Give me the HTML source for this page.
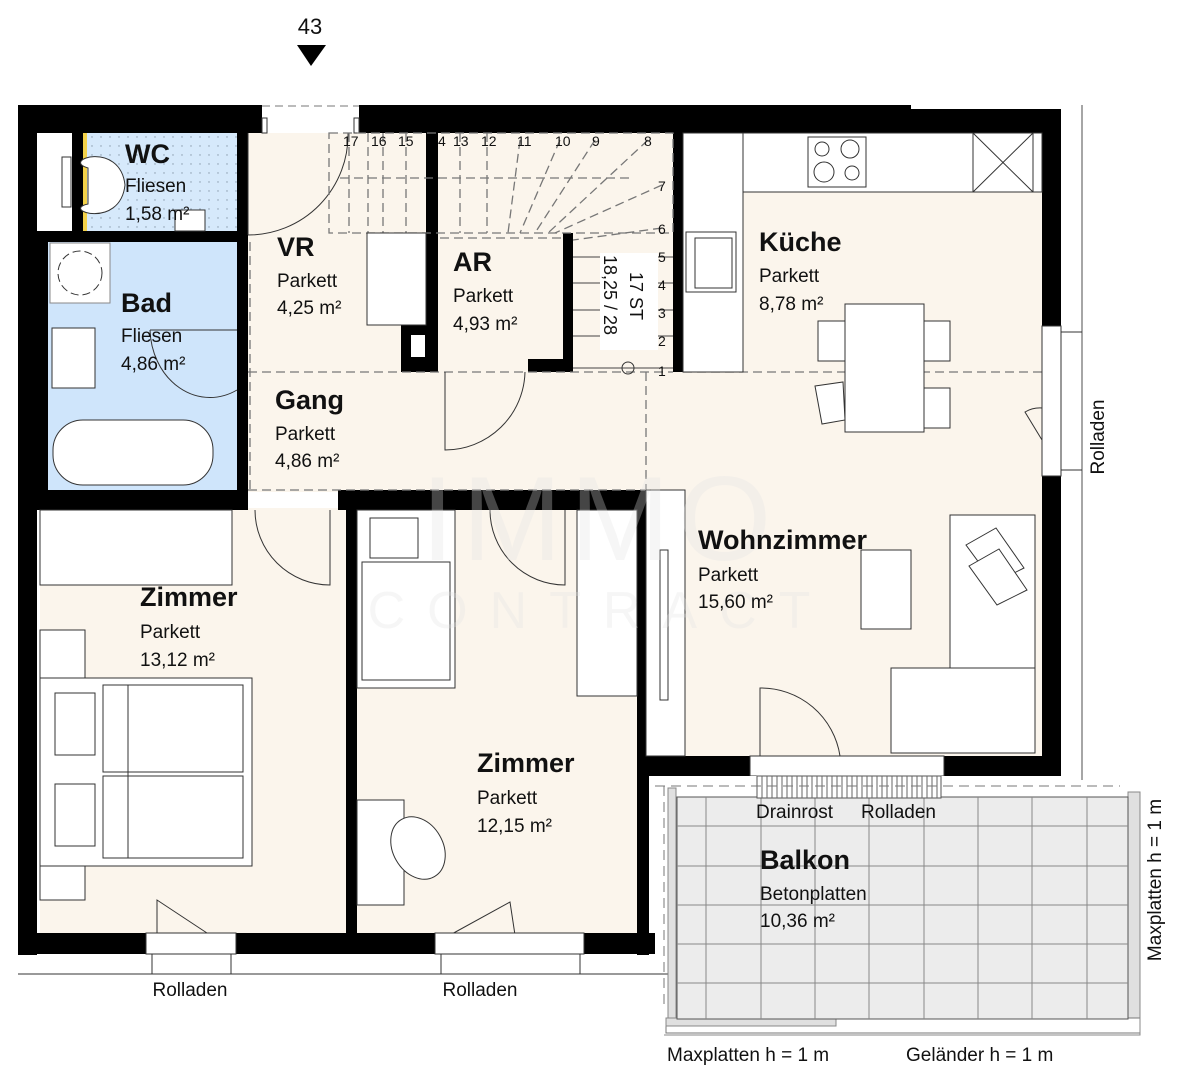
<!DOCTYPE html>
<html><head><meta charset="utf-8"><style>
html,body{margin:0;padding:0;background:#fff}
svg{display:block}
text{font-family:"Liberation Sans",sans-serif;fill:#111}
.t{font-weight:bold;font-size:27px}
.s{font-size:19px}
</style></head><body>
<svg width="1200" height="1090" viewBox="0 0 1200 1090" xmlns="http://www.w3.org/2000/svg">
<defs>
<pattern id="dots" width="9" height="9" patternUnits="userSpaceOnUse"><rect width="9" height="9" fill="#d6e9fb"/><circle cx="2" cy="2" r="0.7" fill="#8899aa"/></pattern>
</defs>
<!-- floors -->
<rect x="248" y="133" width="425" height="239" fill="#fbf5ec"/>
<rect x="248" y="372" width="400" height="120" fill="#fbf5ec"/>
<rect x="683" y="192" width="360" height="180" fill="#fbf5ec"/>
<rect x="646" y="372" width="397" height="386" fill="#fbf5ec"/>
<rect x="40" y="508" width="306" height="428" fill="#fbf5ec"/>
<rect x="357" y="508" width="280" height="428" fill="#fbf5ec"/>
<rect x="83" y="133" width="154" height="98" fill="url(#dots)"/>
<rect x="83" y="133" width="4" height="98" fill="#f3d24a"/>
<rect x="48" y="242" width="189" height="248" fill="#cfe5fb"/>
<!-- walls -->
<g fill="#000">
<rect x="18" y="105" width="244" height="28"/>
<rect x="359" y="105" width="552" height="28"/>
<rect x="911" y="109" width="150" height="24"/>
<rect x="18" y="105" width="19" height="850"/>
<rect x="72" y="133" width="11" height="98"/>
<rect x="18" y="231" width="230" height="11"/>
<rect x="18" y="242" width="30" height="248"/>
<rect x="237" y="133" width="11" height="377"/>
<rect x="18" y="490" width="230" height="20"/>
<rect x="338" y="490" width="310" height="20"/>
<rect x="346" y="508" width="11" height="428"/>
<rect x="637" y="490" width="12" height="465"/>
<rect x="18" y="933" width="128" height="21"/>
<rect x="236" y="933" width="199" height="21"/>
<rect x="584" y="933" width="71" height="21"/>
<rect x="426" y="133" width="12" height="239"/>
<rect x="563" y="233" width="10" height="139"/>
<rect x="528" y="359" width="45" height="13"/>
<rect x="401" y="325" width="25" height="47"/>
<rect x="673" y="133" width="10" height="239"/>
<rect x="1042" y="109" width="19" height="217"/>
<rect x="1042" y="476" width="19" height="300"/>
<rect x="637" y="756" width="113" height="20"/>
<rect x="944" y="756" width="117" height="20"/>
</g>
<rect x="411" y="335" width="14" height="22" fill="#fff"/>
<rect x="37" y="133" width="35" height="98" fill="#fff"/>
<rect x="62" y="157" width="9" height="50" fill="#fff" stroke="#333"/>
<!-- entrance -->
<rect x="262" y="105" width="97" height="28" fill="#fff"/>
<line x1="262" y1="106" x2="359" y2="106" stroke="#777" stroke-dasharray="8,5"/>
<rect x="262" y="118" width="5" height="15" fill="#fff" stroke="#333"/><rect x="354" y="118" width="5" height="15" fill="#fff" stroke="#333"/>
<path d="M248 235 A100 100 0 0 0 348 133" fill="none" stroke="#333"/>
<line x1="248" y1="133" x2="248" y2="235" stroke="#333"/>
<!-- stairs -->
<g stroke="#777" stroke-dasharray="9,5" fill="none" stroke-width="1.3">
<rect x="329" y="133" width="344" height="100"/>
<line x1="349" y1="133" x2="349" y2="233"/><line x1="368" y1="133" x2="368" y2="233"/><line x1="383" y1="133" x2="383" y2="233"/>
<line x1="406" y1="133" x2="406" y2="233"/><line x1="460" y1="133" x2="460" y2="233"/><line x1="487" y1="133" x2="487" y2="233"/>
<line x1="520" y1="140" x2="508" y2="233"/><line x1="560" y1="140" x2="520" y2="233"/><line x1="595" y1="140" x2="535" y2="233"/><line x1="648" y1="140" x2="548" y2="233"/>
<line x1="662" y1="185" x2="555" y2="233"/><line x1="662" y1="228" x2="573" y2="240"/>
<line x1="340" y1="178" x2="630" y2="178"/>
<line x1="248" y1="372" x2="673" y2="372"/><line x1="248" y1="490" x2="645" y2="490"/><line x1="646" y1="372" x2="646" y2="490"/>
<line x1="683" y1="372" x2="1042" y2="372"/><line x1="250" y1="242" x2="250" y2="490"/>
<line x1="440" y1="238" x2="563" y2="238"/>
</g>
<rect x="367" y="233" width="59" height="92" fill="#fff" stroke="#333"/>
<g stroke="#444"><line x1="573" y1="257" x2="673" y2="257"/><line x1="573" y1="283" x2="673" y2="283"/><line x1="573" y1="310" x2="673" y2="310"/><line x1="573" y1="336" x2="673" y2="336"/><line x1="573" y1="368" x2="673" y2="368"/></g>
<rect x="600" y="253" width="58" height="97" fill="#fff"/>
<circle cx="628" cy="368" r="6" fill="none" stroke="#333"/>
<g font-size="14" style="font-family:'Liberation Sans',sans-serif">
<text x="343" y="146">17</text><text x="371" y="146">16</text><text x="398" y="146">15</text><text x="438" y="146">4</text><text x="453" y="146">13</text><text x="481" y="146">12</text><text x="517" y="146">11</text><text x="555" y="146">10</text><text x="592" y="146">9</text><text x="644" y="146">8</text>
<text x="658" y="191">7</text><text x="658" y="234">6</text><text x="658" y="262">5</text><text x="658" y="290">4</text><text x="658" y="318">3</text><text x="658" y="346">2</text><text x="658" y="376">1</text>
</g>
<text transform="translate(604,255) rotate(90)" font-size="18">18,25 / 28</text>
<text transform="translate(630,272) rotate(90)" font-size="18">17 ST</text>
<!-- doors -->
<g fill="none" stroke="#333">
<path d="M445 372 L445 450 A80 80 0 0 0 525 372"/>
<path d="M237 390 A60 70 0 0 1 150 330"/><line x1="150" y1="330" x2="237" y2="330"/>
<path d="M255 510 A75 75 0 0 0 330 585 L330 510"/>
<path d="M490 510 A75 75 0 0 0 565 585 L565 510"/>
<path d="M760 756 L760 688 A80 80 0 0 1 840 756"/>
<path d="M1042 408 A30 30 0 0 0 1025 412 L1042 440"/>
<path d="M157 935 L157 900 L210 935"/><path d="M450 935 L510 902 L515 935"/>
</g>
<!-- windows bottom -->
<g fill="#fff" stroke="#333">
<rect x="146" y="933" width="90" height="21"/><rect x="435" y="933" width="149" height="21"/>
<rect x="152" y="954" width="79" height="20"/><rect x="441" y="954" width="139" height="20"/>
<rect x="1042" y="326" width="19" height="150"/>
<rect x="750" y="756" width="194" height="20"/>
</g>
<line x1="18" y1="974" x2="676" y2="974" stroke="#333"/>
<line x1="1082" y1="105" x2="1082" y2="780" stroke="#888" stroke-width="1.5"/>
<line x1="1061" y1="332" x2="1082" y2="332" stroke="#333"/><line x1="1061" y1="470" x2="1082" y2="470" stroke="#333"/>
<!-- bathroom fixtures -->
<g fill="#fff" stroke="#333">
<rect x="50" y="243" width="60" height="60" stroke="#888"/>
<circle cx="80" cy="273" r="22" stroke-dasharray="8,4"/>
<rect x="52" y="328" width="43" height="60"/>
<rect x="53" y="420" width="160" height="65" rx="30"/>
<path d="M88 168 C60 160 120 140 125 185 C120 230 60 210 88 204 Z"/>
<rect x="175" y="210" width="30" height="21"/>
</g>
<!-- kitchen -->
<g fill="#fff" stroke="#333">
<rect x="683" y="133" width="60" height="239"/>
<rect x="743" y="133" width="299" height="59"/>
<rect x="808" y="137" width="58" height="50"/>
<circle cx="822" cy="149" r="7" fill="none"/><circle cx="850" cy="149" r="9" fill="none"/><circle cx="824" cy="172" r="10" fill="none"/><circle cx="852" cy="173" r="7" fill="none"/>
<rect x="973" y="133" width="60" height="59"/>
<line x1="973" y1="133" x2="1033" y2="192"/><line x1="1033" y1="133" x2="973" y2="192"/>
<rect x="686" y="232" width="50" height="60"/><rect x="695" y="238" width="37" height="50"/>
<rect x="818" y="321" width="27" height="40"/><rect x="924" y="321" width="26" height="40"/><rect x="924" y="388" width="26" height="40"/>
<polygon points="815,386 843,382 845,420 822,424"/>
<rect x="845" y="304" width="79" height="128"/>
<!-- living -->
<rect x="646" y="490" width="39" height="266"/>
<rect x="660" y="550" width="8" height="150"/>
<rect x="950" y="515" width="85" height="238"/>
<rect x="891" y="668" width="144" height="85"/>
<rect x="861" y="550" width="50" height="79"/>
<polygon points="966,545 996,528 1024,568 994,583"/>
<polygon points="969,566 999,549 1027,590 997,605"/>
<!-- bedroom1 -->
<rect x="40" y="510" width="192" height="75"/>
<rect x="40" y="630" width="45" height="48"/><rect x="40" y="866" width="45" height="34"/>
<rect x="40" y="678" width="212" height="188"/>
<rect x="55" y="693" width="40" height="62"/><rect x="55" y="784" width="40" height="62"/>
<rect x="103" y="685" width="140" height="87"/><rect x="103" y="776" width="140" height="82"/>
<line x1="128" y1="685" x2="128" y2="858"/>
<!-- bedroom2 -->
<rect x="357" y="510" width="98" height="178"/>
<rect x="370" y="518" width="48" height="40"/><rect x="362" y="562" width="88" height="118"/>
<rect x="577" y="510" width="60" height="186"/>
<rect x="357" y="800" width="47" height="105"/>
<ellipse cx="418" cy="848" rx="25" ry="33" transform="rotate(-30 418 848)"/>
</g>
<!-- balcony -->
<rect x="660" y="776" width="402" height="5" fill="#fff"/>
<rect x="668" y="788" width="8" height="230" fill="#e0e0e0" stroke="#888"/>
<rect x="1128" y="792" width="12" height="236" fill="#e0e0e0" stroke="#888"/>
<rect x="666" y="1018" width="474" height="15" fill="#fff" stroke="#777"/>
<rect x="666" y="1018" width="170" height="8" fill="#e0e0e0" stroke="#888"/>
<g stroke="#888" fill="none"><path d="M664 1035 H1140 V793"/></g>
<rect x="677" y="797" width="451" height="222" fill="#ececec" stroke="#555"/>
<g stroke="#888" stroke-width="1">
<line x1="706" y1="797" x2="706" y2="1019"/><line x1="761" y1="797" x2="761" y2="1019"/><line x1="815" y1="797" x2="815" y2="1019"/><line x1="869" y1="797" x2="869" y2="1019"/><line x1="924" y1="797" x2="924" y2="1019"/><line x1="978" y1="797" x2="978" y2="1019"/><line x1="1032" y1="797" x2="1032" y2="1019"/><line x1="1087" y1="797" x2="1087" y2="1019"/>
<line x1="677" y1="826" x2="1128" y2="826"/><line x1="677" y1="866" x2="1128" y2="866"/><line x1="677" y1="905" x2="1128" y2="905"/><line x1="677" y1="944" x2="1128" y2="944"/><line x1="677" y1="983" x2="1128" y2="983"/>
</g>
<rect x="757" y="776" width="184" height="22" fill="#fff" stroke="#555"/>
<g stroke="#666"><path d="M762 776v22M767 776v22M772 776v22M777 776v22M782 776v22M787 776v22M792 776v22M797 776v22M802 776v22M807 776v22M812 776v22M817 776v22M822 776v22M827 776v22M832 776v22M837 776v22M842 776v22M847 776v22M852 776v22M857 776v22M862 776v22M867 776v22M872 776v22M877 776v22M882 776v22M887 776v22M892 776v22M897 776v22M902 776v22M907 776v22M912 776v22M917 776v22M922 776v22M927 776v22M932 776v22M937 776v22"/></g>
<line x1="655" y1="786" x2="1120" y2="786" stroke="#777" stroke-dasharray="10,6"/>
<line x1="664" y1="786" x2="664" y2="1010" stroke="#777" stroke-dasharray="10,6"/>
<!-- watermark -->
<text x="600" y="560" text-anchor="middle" font-size="120" style="fill:#e4e4e4;opacity:.3;letter-spacing:8px">IMMO</text>
<text x="600" y="628" text-anchor="middle" font-size="52" style="fill:#e4e4e4;opacity:.3;letter-spacing:22px">CONTRACT</text>
<!-- labels -->
<text x="310" y="34" text-anchor="middle" font-size="22">43</text>
<polygon points="297,45 326,45 311,66" fill="#000"/>
<text class="t" x="125" y="163">WC</text><text class="s" x="125" y="192">Fliesen</text><text class="s" x="125" y="220">1,58 m²</text>
<text class="t" x="121" y="312">Bad</text><text class="s" x="121" y="342">Fliesen</text><text class="s" x="121" y="370">4,86 m²</text>
<text class="t" x="277" y="256">VR</text><text class="s" x="277" y="287">Parkett</text><text class="s" x="277" y="314">4,25 m²</text>
<text class="t" x="453" y="271">AR</text><text class="s" x="453" y="302">Parkett</text><text class="s" x="453" y="330">4,93 m²</text>
<text class="t" x="759" y="251">Küche</text><text class="s" x="759" y="282">Parkett</text><text class="s" x="759" y="310">8,78 m²</text>
<text class="t" x="275" y="409">Gang</text><text class="s" x="275" y="440">Parkett</text><text class="s" x="275" y="467">4,86 m²</text>
<text class="t" x="698" y="549">Wohnzimmer</text><text class="s" x="698" y="581">Parkett</text><text class="s" x="698" y="608">15,60 m²</text>
<text class="t" x="140" y="606">Zimmer</text><text class="s" x="140" y="638">Parkett</text><text class="s" x="140" y="666">13,12 m²</text>
<text class="t" x="477" y="772">Zimmer</text><text class="s" x="477" y="804">Parkett</text><text class="s" x="477" y="832">12,15 m²</text>
<text class="t" x="760" y="869">Balkon</text><text class="s" x="760" y="900">Betonplatten</text><text class="s" x="760" y="927">10,36 m²</text>
<text class="s" x="756" y="818">Drainrost</text><text class="s" x="861" y="818">Rolladen</text>
<text class="s" x="190" y="996" text-anchor="middle">Rolladen</text><text class="s" x="480" y="996" text-anchor="middle">Rolladen</text>
<text class="s" transform="translate(1104,437) rotate(-90)" text-anchor="middle">Rolladen</text>
<text class="s" transform="translate(1161,880) rotate(-90)" text-anchor="middle">Maxplatten h = 1 m</text>
<text class="s" x="667" y="1061">Maxplatten h = 1 m</text><text class="s" x="906" y="1061">Geländer h = 1 m</text>
</svg>
</body></html>
